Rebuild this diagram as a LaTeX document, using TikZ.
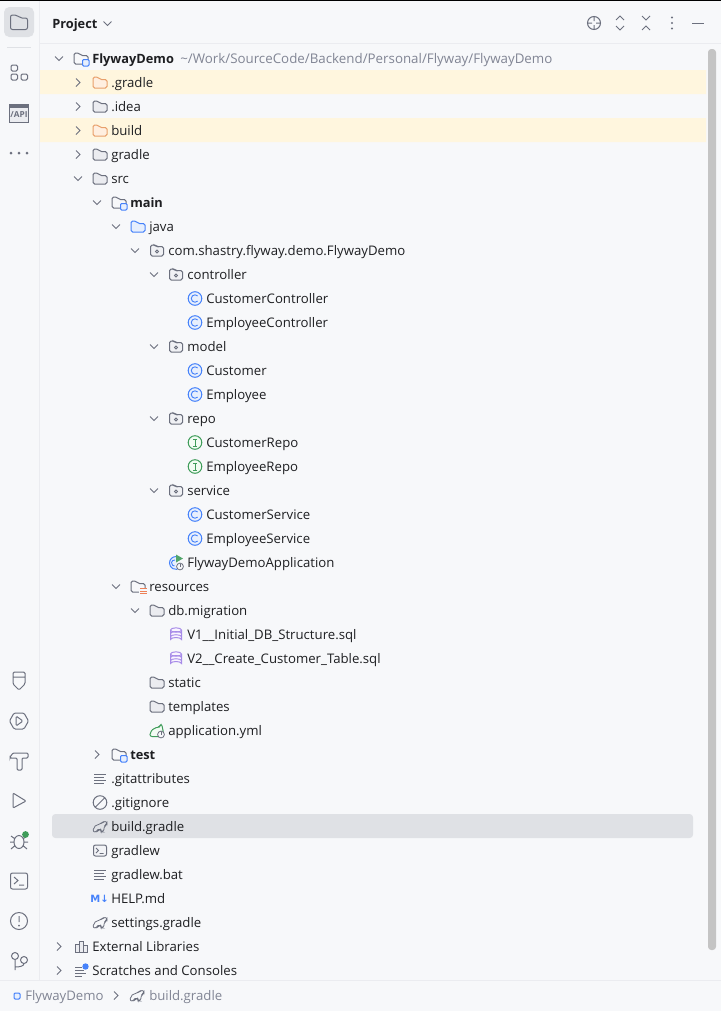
\documentclass[tikz,border=0pt]{standalone}
\usepackage{fontspec}
\setmainfont{Open Sans}
\newfontfamily\arrowfont{DejaVu Sans}
\definecolor{panelbg}{HTML}{F7F8FA}
\definecolor{rulecol}{HTML}{EBECF0}
\definecolor{rowhi}{HTML}{FFF6DE}
\definecolor{rowsel}{HTML}{DFE1E5}
\definecolor{icongray}{HTML}{6C707E}
\definecolor{foldfill}{HTML}{EBECF0}
\definecolor{orangeline}{HTML}{E8A06B}
\definecolor{orangefill}{HTML}{FFEFE0}
\definecolor{blueline}{HTML}{4682FA}
\definecolor{bluefill}{HTML}{E7EFFD}
\definecolor{greenline}{HTML}{3F9C5A}
\definecolor{greenfill}{HTML}{F2FCF3}
\definecolor{violetline}{HTML}{A78BE8}
\definecolor{violetfill}{HTML}{FAF5FF}
\definecolor{greytext}{HTML}{818594}
\definecolor{darktext}{HTML}{1E1F22}
\newcommand{\foldershape}{(-7,5.5) -- (-7,-5.5) -- (-2,-5.5) -- (0,-3) -- (7,-3) -- (7,5.5) -- cycle}
\newcommand{\pkgshape}{(-6.5,5.5) -- (-6.5,-5.5) -- (-2,-5.5) -- (-0.5,-4) -- (6.5,-4) -- (6.5,5.5) -- cycle}
\newcommand{\gradleshape}{(-7,5.5) -- (-6.5,1) -- (-3,-2) -- (1,-2.5) -- (3,-5) -- (7,-5) -- (7,-2) -- (4.5,-1) -- (3.5,5.5) -- (1,5.5) -- (1,3) -- (-2,3) -- (-3,5.5) -- cycle}
\newcommand{\boldrow}[1]{{\fontsize{9.6pt}{12pt}\selectfont\bfseries #1}}
\tikzset{
  x=0.75pt,y=-0.75pt,
  iconline/.style={draw=icongray,line width=0.75pt},
  rowlabel/.style={anchor=base west,inner sep=0pt,font=\fontsize{9.9pt}{12pt}\selectfont,text=darktext},
  greylabel/.style={rowlabel,text=greytext},
  pics/chevd/.style={code={\draw[iconline,line width=0.7pt] (-4,-2) -- (0,2) -- (4,-2);}},
  pics/chevr/.style={code={\draw[iconline,line width=0.7pt] (-2,-4) -- (2,0) -- (-2,4);}},
  pics/chevn/.style={code={}},
  pics/foldgray/.style={code={\draw[iconline,fill=foldfill,rounded corners=1.2pt] \foldershape;}},
  pics/foldorange/.style={code={\draw[draw=orangeline,line width=0.75pt,fill=orangefill,rounded corners=1.2pt] \foldershape;}},
  pics/foldblue/.style={code={\draw[draw=blueline,line width=0.75pt,fill=bluefill,rounded corners=1.2pt] \foldershape;}},
  pics/module/.style={code={
    \draw[iconline,rounded corners=1.2pt] \foldershape;
    \draw[draw=blueline,line width=0.75pt,fill=bluefill,rounded corners=0.8pt] (1.5,1) rectangle (8,7.5);}},
  pics/resfold/.style={code={
    \draw[iconline,rounded corners=1.2pt] \foldershape;
    \fill[panelbg] (1,1) rectangle (9,8);
    \draw[orangeline!80!red,line width=0.75pt] (2,2) -- (9,2) (2,4.5) -- (9,4.5) (2,7) -- (9,7);}},
  pics/pkg/.style={code={
    \draw[iconline,fill=foldfill!60!panelbg,rounded corners=1.2pt] \pkgshape;
    \draw[iconline,line width=0.6pt] (0,1) circle (1.5);}},
  pics/classic/.style={code={
    \draw[draw=blueline,line width=0.75pt,fill=bluefill] (0,0) circle (6.8);
    \draw[draw=blueline,line width=0.7pt] (2.6,-2.6) arc (-45:-315:3.7);}},
  pics/ific/.style={code={
    \draw[draw=greenline,line width=0.75pt,fill=greenfill] (0,0) circle (6.8);
    \draw[draw=greenline,line width=0.75pt] (-2,-3.5) -- (2,-3.5) (0,-3.5) -- (0,3.5) (-2,3.5) -- (2,3.5);}},
  pics/dbic/.style={code={
    \draw[draw=violetline,line width=0.75pt,fill=violetfill] (-5.5,-4.5) -- (-5.5,5) arc (180:360:5.5 and 2) -- (5.5,-4.5);
    \draw[draw=violetline,line width=0.75pt,fill=violetfill] (0,-4.5) ellipse (5.5 and 2.2);
    \draw[draw=violetline,line width=0.7pt] (-5.5,-1) arc (180:360:5.5 and 2) (-5.5,2.2) arc (180:360:5.5 and 2);}},
  pics/appic/.style={code={
    \draw[draw=blueline,line width=0.75pt,fill=bluefill] (0,-6) arc (-90:-280:6.5);
    \draw[draw=blueline,line width=0.7pt] (-1,-2.5) arc (-80:-270:3);
    \fill[greenline!90!white] (0,-8) -- (7,-4) -- (0,0) -- cycle;
    \draw[iconline,fill=panelbg,line width=0.6pt] (4,4) circle (3.4);
    \draw[iconline,line width=0.6pt] (4,1.5) -- (4,4);}},
  pics/ymlic/.style={code={
    \draw[draw=greenline,line width=0.75pt,fill=greenfill,rounded corners=1.5pt] (-7,6) -- (-7,2) -- (-3,-2.5) -- (3,-3.5) -- (4,-7) -- (6,-2) -- (6,6) -- cycle;
    \draw[iconline,fill=panelbg,line width=0.6pt] (4,4) circle (3.4);
    \draw[iconline,line width=0.6pt] (4,1.5) -- (4,4);}},
  pics/linesic/.style={code={\draw[iconline,line width=0.7pt] (-6,-4.5) -- (6,-4.5) (-6,-1.5) -- (4,-1.5) (-6,1.5) -- (6,1.5) (-6,4.5) -- (4,4.5);}},
  pics/ignoreic/.style={code={\draw[iconline] (0,0) circle (6.8) (-4.6,4.6) -- (4.6,-4.6);}},
  pics/gradleic/.style={code={\draw[iconline,line width=0.6pt,rounded corners=1.5pt] \gradleshape;}},
  pics/termic/.style={code={
    \draw[iconline,fill=foldfill!40!panelbg,rounded corners=1.5pt] (-6.5,-5.5) rectangle (6.5,5.5);
    \draw[iconline,line width=0.6pt] (-4,-2.5) -- (-1.5,0) -- (-4,2.5) (-0.5,3) -- (3.5,3);}},
  pics/mdic/.style={code={\node[inner sep=0pt,text=blueline,font=\arrowfont\fontsize{7.5pt}{8pt}\selectfont\bfseries] (mdmark) at (-0.5,0) {M↓};}},
  pics/libsic/.style={code={\draw[iconline,line width=0.7pt,fill=foldfill] (-6,-2) rectangle (-2,5.5) (-2,-5.5) rectangle (2,5.5) (2,-1) rectangle (6,5.5);}},
  pics/scratchic/.style={code={
    \draw[iconline,line width=0.7pt] (-6,-3.5) -- (1,-3.5) (-6,-0.5) -- (3,-0.5) (-6,2.5) -- (5,2.5) (-6,5.5) -- (1,5.5);
    \fill[blueline] (4.5,-4) circle (3.2);}}
}
\begin{document}
\begin{tikzpicture}
\fill[panelbg] (0,0) rectangle (721,1011);
\useasboundingbox (0,0) rectangle (721,1011);
\fill[black] (0,0) rectangle (721,1);
\draw[rulecol,line width=0.75pt] (39.5,1) -- (39.5,980) (40,43.5) -- (721,43.5) (0,980.5) -- (721,980.5);
\fill[rowhi] (40,70) rectangle (706,94) (40,118) rectangle (706,142);
\fill[rowsel,rounded corners=2.5pt] (52,814) rectangle (693,838);
\fill[black!23,rounded corners=2.5pt] (708,49) rectangle (716,950);
% sidebar
\fill[rowsel,rounded corners=4pt] (4,7) rectangle (34,37);
\draw[iconline,rounded corners=1.5pt] (10.5,29.5) -- (10.5,15) -- (17,15) -- (20,18) -- (27.5,18) -- (27.5,29.5) -- cycle;
\draw[rowsel,line width=0.75pt] (7,47.5) -- (31,47.5);
\draw[iconline,rounded corners=1pt] (11,65) rectangle (17.5,71) (11,74) rectangle (17.5,80) (21,74) rectangle (27.5,80);
\draw[iconline,fill=foldfill] (9.5,104) rectangle (28.5,122);
\fill[icongray] (9.5,104) rectangle (28.5,108);
\node[inner sep=0pt,text=icongray,font=\fontsize{6.2pt}{7pt}\selectfont\bfseries] (apimark) at (19,115) {/API};
\fill[icongray] (11,153) circle (1.5) (19,153) circle (1.5) (27,153) circle (1.5);
\draw[iconline,rounded corners=1pt] (13,672) -- (25,672) -- (25,684) -- (19,690) -- (13,684) -- cycle (13,677) -- (25,677);
\draw[iconline,rounded corners=1pt] (9.5,721) -- (14,713) -- (24,713) -- (28.5,721) -- (24,729) -- (14,729) -- cycle (16,716) -- (23,721) -- (16,726) -- cycle;
\draw[iconline,rounded corners=0.8pt] (10,757) -- (13,753) -- (28,753) -- (28,758) -- (22,758) -- (22,770) -- (17,770) -- (17,758) -- (10,758) -- cycle;
\draw[iconline,rounded corners=0.8pt] (13,793) -- (26,801) -- (13,808) -- cycle;
\draw[iconline] (19,842) ellipse (5 and 6.5) (11,836) -- (14.5,838.5) (10,842) -- (14,842) (11,849) -- (14.5,846) (27,836) -- (23.5,838.5) (28,842) -- (24,842) (27,849) -- (23.5,846);
\fill[greenline] (25.5,834.5) circle (3.4);
\draw[iconline,rounded corners=1.5pt] (10.5,873) rectangle (27.5,889);
\draw[iconline] (14,877) -- (18,880.5) -- (14,884) (19,885) -- (24,885);
\draw[iconline] (19,921) circle (8.5) (19,916) -- (19,922);
\fill[icongray] (19,925.5) circle (1);
\draw[iconline] (15,956) circle (3.5) (24,960) circle (3.5) (15,959.5) -- (15,970) (15,967) .. controls (20,967) and (24,966) .. (24,963.5);
% header
\node[rowlabel] (projectlabel) at (52,28.2) {\boldrow{Project}};
\pic at (107.5,23.5) {chevd};
\draw[iconline] (594,23) circle (6.5) (594,17) -- (594,21) (594,25) -- (594,29) (588,23) -- (592,23) (596,23) -- (600,23);
\draw[iconline] (616,20) -- (620,16) -- (624,20) (616,26) -- (620,30) -- (624,26);
\draw[iconline] (642,16) -- (646,20) -- (650,16) (642,30) -- (646,26) -- (650,30);
\fill[icongray] (672,17.5) circle (1.2) (672,23) circle (1.2) (672,28.5) circle (1.2);
\draw[iconline] (692,23) -- (704,23);
% tree rows: text x / y / icon / chevron / text
\foreach \xt/\yt/\ic/\ch/\txt [count=\rownum] in {
  92/58/module/d/\boldrow{FlywayDemo},
  111/82/foldorange/r/.gradle,
  111/106/foldgray/r/.idea,
  111/130/foldorange/r/build,
  111/154/foldgray/r/gradle,
  111/178/foldgray/d/src,
  130/202/module/d/\boldrow{main},
  149/226/foldblue/d/java,
  168/250/pkg/d/com.shastry.flyway.demo.FlywayDemo,
  187/274/pkg/d/controller,
  206/298/classic/n/CustomerController,
  206/322/classic/n/EmployeeController,
  187/346/pkg/d/model,
  206/370/classic/n/Customer,
  206/394/classic/n/Employee,
  187/418/pkg/d/repo,
  206/442/ific/n/CustomerRepo,
  206/466/ific/n/EmployeeRepo,
  187/490/pkg/d/service,
  206/514/classic/n/CustomerService,
  206/538/classic/n/EmployeeService,
  187/562/appic/n/FlywayDemoApplication,
  149/586/resfold/d/resources,
  168/610/foldgray/d/db.migration,
  187/634/dbic/n/V1\_\_Initial\_DB\_Structure.sql,
  187/658/dbic/n/V2\_\_Create\_Customer\_Table.sql,
  168/682/foldgray/n/static,
  168/706/foldgray/n/templates,
  168/730/ymlic/n/application.yml,
  130/754/module/r/\boldrow{test},
  111/778/linesic/n/.gitattributes,
  111/802/ignoreic/n/.gitignore,
  111/826/gradleic/n/build.gradle,
  111/850/termic/n/gradlew,
  111/874/linesic/n/gradlew.bat,
  111/898/mdic/n/HELP.md,
  111/922/gradleic/n/settings.gradle,
  92/946/libsic/r/External Libraries,
  92/970/scratchic/r/Scratches and Consoles%
}{
  \pic at (\xt-33,\yt+0.5) {chev\ch};
  \pic at (\xt-11,\yt+0.5) {\ic};
  \node[rowlabel] (row\rownum) at (\xt,\yt+5.2) {\txt};
}
\node[greylabel,font=\fontsize{10pt}{12pt}\selectfont] (rootpath) at (180,63.2) {\textasciitilde/Work/SourceCode/Backend/Personal/Flyway/FlywayDemo};
% breadcrumb
\draw[draw=blueline,line width=0.75pt,fill=bluefill,rounded corners=0.8pt] (14,993) rectangle (20,999);
\node[greylabel] (crumbroot) at (25,1000.2) {FlywayDemo};
\pic at (116,995.5) {chevr};
\pic at (137,995.5) {gradleic};
\node[greylabel] (crumbfile) at (149,1000.2) {build.gradle};
\end{tikzpicture}
\end{document}
